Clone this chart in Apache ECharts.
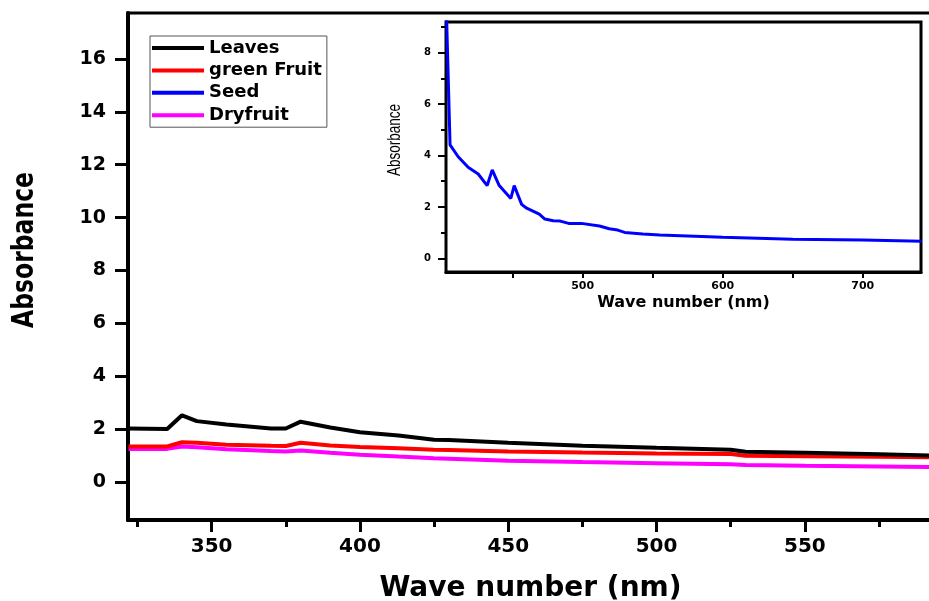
<!DOCTYPE html>
<html>
<head>
<meta charset="utf-8">
<script src="https://cdn.jsdelivr.net/npm/echarts@6/dist/echarts.min.js"></script>
<style>
	html, body { margin: 0; padding: 0; background: #fff; }
	#chart { width: 929px; height: 601px; }
</style>
</head>
<body>
<div id="chart"></div>
<script>
// main plot values
var mainWave = [322, 335, 340, 345, 355, 370, 375, 380, 390, 400, 413, 425, 430, 450, 475, 500, 525, 530, 550, 575, 593];
var leaves = [2.02, 2.0, 2.52, 2.3, 2.17, 2.02, 2.02, 2.28, 2.06, 1.88, 1.76, 1.6, 1.59, 1.48, 1.37, 1.29, 1.22, 1.14, 1.1, 1.05, 1.0];
var greenFruit = [1.34, 1.34, 1.5, 1.48, 1.41, 1.37, 1.36, 1.48, 1.38, 1.32, 1.27, 1.22, 1.21, 1.15, 1.11, 1.08, 1.06, 0.99, 0.97, 0.95, 0.93];
var dryfruit = [1.25, 1.25, 1.34, 1.31, 1.24, 1.17, 1.15, 1.19, 1.1, 1.03, 0.96, 0.9, 0.88, 0.8, 0.75, 0.71, 0.67, 0.64, 0.61, 0.58, 0.56];

// inset (seed) values
var seedWave = [402.5, 405.3, 411.1, 418.2, 425.4, 431.8, 435.4, 440.4, 448.7, 451.1, 456.4, 460, 469, 473, 479, 484, 490, 499, 512, 519, 525, 530, 543, 555, 600, 650, 700, 742];
var seed = [10, 4.41, 3.95, 3.54, 3.28, 2.83, 3.44, 2.83, 2.33, 2.83, 2.10, 1.95, 1.72, 1.53, 1.46, 1.45, 1.36, 1.36, 1.26, 1.15, 1.10, 1.01, 0.95, 0.91, 0.82, 0.74, 0.71, 0.67];

// ticks
var mainXLabels = [350, 400, 450, 500, 550];
var mainXMinor = [325, 375, 425, 475, 525, 575];
var mainYLabels = [0, 2, 4, 6, 8, 10, 12, 14, 16];
var insetXTicks = [450, 500, 550, 600, 650, 700];
var insetXLabels = [500, 600, 700];
var insetYLabels = [0, 2, 4, 6, 8];
var insetYMinor = [1, 3, 5, 7, 9];

function pairs(xs, ys){
	return xs.map(function(x, i){ return [x, ys[i]]; });
}

var FONT = '"DejaVu Sans", sans-serif';

var chart = echarts.init(document.getElementById('chart'));
var option = {
	backgroundColor: '#fff',
	animation: false,
	grid: [
		{ left: 128, right: -4, top: 13, bottom: 81, outerBoundsMode: 'none', show: true, borderColor: '#000', borderWidth: 3, backgroundColor: 'transparent' },
		{ left: 446, right: 8, top: 22, bottom: 329, outerBoundsMode: 'none', show: true, borderColor: '#000', borderWidth: 3, backgroundColor: '#fff', z: 3 }
	],
	legend: {
		orient: 'vertical',
		left: 150,
		top: 36,
		padding: [3, 5, 3, 2],
		itemGap: 4.4,
		itemWidth: 52,
		itemHeight: 4,
		icon: 'rect',
		borderColor: '#555',
		borderWidth: 1,
		backgroundColor: '#fff',
		data: ['Leaves', 'green Fruit', 'Seed', 'Dryfruit'],
		textStyle: { color: '#000', fontFamily: FONT, fontWeight: 'bold', fontSize: 18, lineHeight: 18 }
	},
	xAxis: [
		{
			type: 'value', gridIndex: 0, min: 321.8, max: 593.2,
			name: 'Wave number (nm)', nameLocation: 'middle', nameGap: 55,
			nameTextStyle: { color: '#000', fontFamily: FONT, fontWeight: 'bold', fontSize: 28 },
			splitLine: { show: false },
			axisLine: { onZero: false, lineStyle: { color: '#000', width: 4 } },
			axisTick: { length: 12, customValues: mainXLabels, lineStyle: { color: '#000', width: 3 } },
			axisLabel: { margin: 17, customValues: mainXLabels, color: '#000', fontFamily: FONT, fontWeight: 'bold', fontSize: 20 }
		},
		{
			type: 'value', gridIndex: 0, position: 'bottom', min: 321.8, max: 593.2,
			splitLine: { show: false },
			axisLine: { show: false, onZero: false },
			axisTick: { length: 7, customValues: mainXMinor, lineStyle: { color: '#000', width: 3 } },
			axisLabel: { show: false }
		},
		{
			type: 'value', gridIndex: 1, min: 402.4, max: 741.6,
			name: 'Wave number (nm)', nameLocation: 'middle', nameGap: 23,
			nameTextStyle: { color: '#000', fontFamily: FONT, fontWeight: 'bold', fontSize: 16 },
			splitLine: { show: false },
			axisLine: { onZero: false, lineStyle: { color: '#000', width: 3 } },
			axisTick: { length: 6, customValues: insetXTicks, lineStyle: { color: '#000', width: 2 } },
			axisLabel: { margin: 9, customValues: insetXLabels, color: '#000', fontFamily: FONT, fontWeight: 'bold', fontSize: 11 }
		}
	],
	yAxis: [
		{
			type: 'value', gridIndex: 0, min: -1.44, max: 17.74,
			splitLine: { show: false },
			axisLine: { onZero: false, lineStyle: { color: '#000', width: 4 } },
			axisTick: { length: 13, customValues: mainYLabels, lineStyle: { color: '#000', width: 3 } },
			axisLabel: { margin: 22, customValues: mainYLabels, color: '#000', fontFamily: FONT, fontWeight: 'bold', fontSize: 19 }
		},
		{
			type: 'value', gridIndex: 1, min: -0.53, max: 9.19,
			splitLine: { show: false },
			axisLine: { onZero: false, lineStyle: { color: '#000', width: 3 } },
			axisTick: { length: 8, customValues: insetYLabels, lineStyle: { color: '#000', width: 2 } },
			axisLabel: { margin: 15, customValues: insetYLabels, color: '#000', fontFamily: FONT, fontWeight: 'bold', fontSize: 10 }
		},
		{
			type: 'value', gridIndex: 1, position: 'left', min: -0.53, max: 9.19,
			splitLine: { show: false },
			axisLine: { show: false, onZero: false },
			axisTick: { length: 5, customValues: insetYMinor, lineStyle: { color: '#000', width: 2 } },
			axisLabel: { show: false }
		}
	],
	graphic: [
		{
			type: 'text', x: 25, y: 250, rotation: Math.PI / 2, scaleY: 1.25,
			style: { text: 'Absorbance', fill: '#000', font: 'bold 23.5px "DejaVu Sans", sans-serif', align: 'center', verticalAlign: 'middle' }
		},
		{
			type: 'text', x: 395, y: 140, rotation: Math.PI / 2, scaleY: 1.3, z: 10,
			style: { text: 'Absorbance', fill: '#000', font: '13.5px "Liberation Sans", sans-serif', align: 'center', verticalAlign: 'middle' }
		}
	],
	series: [
		{
			name: 'Leaves', type: 'line', xAxisIndex: 0, yAxisIndex: 0, showSymbol: false, symbol: 'none',
			color: '#000', lineStyle: { width: 4 }, data: pairs(mainWave, leaves), z: 4
		},
		{
			name: 'green Fruit', type: 'line', xAxisIndex: 0, yAxisIndex: 0, showSymbol: false, symbol: 'none',
			color: '#ff0000', lineStyle: { width: 4 }, data: pairs(mainWave, greenFruit), z: 3
		},
		{
			name: 'Seed', type: 'line', xAxisIndex: 2, yAxisIndex: 1, showSymbol: false, symbol: 'none',
			color: '#0000ff', lineStyle: { width: 3 }, data: pairs(seedWave, seed), clip: true, z: 5
		},
		{
			name: 'Dryfruit', type: 'line', xAxisIndex: 0, yAxisIndex: 0, showSymbol: false, symbol: 'none',
			color: '#ff00ff', lineStyle: { width: 4 }, data: pairs(mainWave, dryfruit), z: 2
		}
	]
};
chart.setOption(option);
</script>
</body>
</html>
